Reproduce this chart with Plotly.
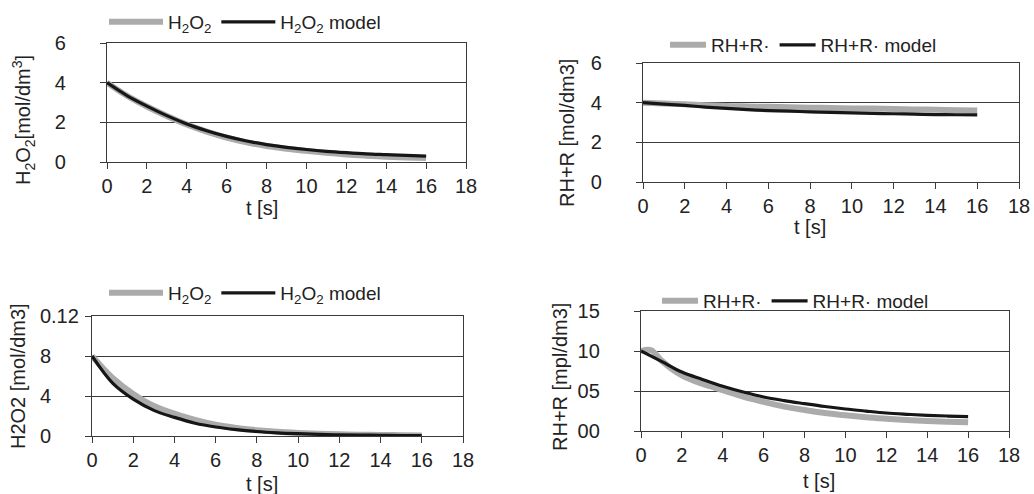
import plotly.graph_objects as go

# time axis [s]
t = [0, 1, 2, 3, 4, 5, 6, 7, 8, 9, 10, 11, 12, 13, 14, 15, 16]
t_rh_low = [0, 0.5, 1, 2, 3, 4, 5, 6, 7, 8, 9, 10, 11, 12, 13, 14, 15, 16]

# H2O2, high initial concentration
h2o2_high = [4.00, 3.34, 2.80, 2.32, 1.89, 1.53, 1.23, 0.99, 0.81, 0.67, 0.56, 0.46, 0.38, 0.32, 0.27, 0.23, 0.20]
h2o2_high_model = [4.00, 3.35, 2.82, 2.34, 1.92, 1.58, 1.29, 1.06, 0.88, 0.74, 0.63, 0.54, 0.47, 0.41, 0.37, 0.33, 0.30]

# RH + R·, high initial H2O2
rh_high = [4.00, 3.96, 3.92, 3.87, 3.83, 3.81, 3.79, 3.77, 3.75, 3.73, 3.71, 3.70, 3.68, 3.66, 3.64, 3.62, 3.61]
rh_high_model = [4.00, 3.93, 3.86, 3.78, 3.71, 3.65, 3.60, 3.57, 3.54, 3.51, 3.49, 3.46, 3.44, 3.42, 3.40, 3.39, 3.38]

# H2O2, low initial concentration
h2o2_low = [0.080, 0.058, 0.042, 0.030, 0.0224, 0.016, 0.0112, 0.0080, 0.0058, 0.0042, 0.0031, 0.0023, 0.0017, 0.0013, 0.0010, 0.0008, 0.0006]
h2o2_low_model = [0.080, 0.0528, 0.0368, 0.0256, 0.0186, 0.0128, 0.0090, 0.0064, 0.0045, 0.0032, 0.0023, 0.0016, 0.0012, 0.0009, 0.0007, 0.0005, 0.0004]

# RH + R·, low initial H2O2
rh_low = [0.100, 0.101, 0.088, 0.0696, 0.0590, 0.0510, 0.0430, 0.0365, 0.0305, 0.0262, 0.0225, 0.0196, 0.0172, 0.0154, 0.0138, 0.0125, 0.0116, 0.0109]
rh_low_model = [0.100, 0.087, 0.0737, 0.0645, 0.0559, 0.0487, 0.0425, 0.0380, 0.0342, 0.0306, 0.0275, 0.0249, 0.0225, 0.0209, 0.0196, 0.0187, 0.0180]

# axis ticks
x_ticks = [0, 2, 4, 6, 8, 10, 12, 14, 16, 18]
y1_ticks = [0, 2, 4, 6]
y2_ticks = [0, 2, 4, 6]
y3_ticks = [0, 0.04, 0.08, 0.12]
y3_labels = ["0\u2007\u2007\u2008", "4\u2007\u2007\u2008", "8\u2007\u2007\u2008", "0.12"]
y4_ticks = [0, 0.05, 0.10, 0.15]
y4_labels = ["00", "05", "10", "15"]

H2O2 = "H<sub>2</sub>O<sub>2</sub>"
RHR = "RH+R\u00b7"

W, H = 1034, 494
FONT = "Liberation Sans, Arial, sans-serif"
GRAY = "#ababab"
BLACK = "#161616"
AXIS = "#3a3a3a"


def px(x):
    return x / W


def py(y):
    return 1 - y / H


fig = go.Figure()

panels = [
    # (suffix, x, exp, model, x_exp, name_exp, name_model)
    ("", t, h2o2_high, h2o2_high_model, t, H2O2, H2O2 + " model"),
    ("2", t, rh_high, rh_high_model, t, RHR, RHR + " model"),
    ("3", t, h2o2_low, h2o2_low_model, t, H2O2, H2O2 + " model"),
    ("4", t, rh_low, rh_low_model, t_rh_low, RHR, RHR + " model"),
]

for suf, tx, exp, model, tx_exp, n_exp, n_mod in panels:
    fig.add_trace(go.Scatter(
        x=tx_exp, y=exp, mode="lines", name=n_exp,
        line=dict(color=GRAY, width=6, shape="spline"),
        xaxis="x" + suf, yaxis="y" + suf, legend="legend" + suf,
    ))
    fig.add_trace(go.Scatter(
        x=tx, y=model, mode="lines", name=n_mod,
        line=dict(color=BLACK, width=3.2, shape="spline"),
        xaxis="x" + suf, yaxis="y" + suf, legend="legend" + suf,
    ))

tick_font = dict(family=FONT, size=20, color="#222")

# plot areas in pixels: (left, right, top, bottom)
boxes = {
    "": (107, 466, 43, 162),
    "2": (643, 1019, 63, 182),
    "3": (92, 463, 316, 436),
    "4": (641, 1009, 311, 431),
}

y_specs = {
    "": dict(range=[0, 6], tickvals=y1_ticks, ticktext=[str(v) for v in y1_ticks], standoff=30),
    "2": dict(range=[0, 6], tickvals=y2_ticks, ticktext=[str(v) for v in y2_ticks], standoff=30),
    "3": dict(range=[0, 0.12], tickvals=y3_ticks, ticktext=y3_labels, standoff=2),
    "4": dict(range=[0, 0.15], tickvals=y4_ticks, ticktext=y4_labels, standoff=30),
}

layout_axes = {}
for suf, (l, r, tp, b) in boxes.items():
    xa = "xaxis" + suf
    ya = "yaxis" + suf
    spec = y_specs[suf]
    layout_axes[xa] = dict(
        domain=[px(l), px(r)], anchor="y" + suf, range=[0, 18],
        tickvals=x_ticks, ticks="outside", ticklen=6, tickcolor=AXIS,
        showline=True, linecolor=AXIS, linewidth=1.3, mirror=True,
        showgrid=False, zeroline=False, tickfont=tick_font,
        automargin=False, fixedrange=True,
    )
    layout_axes[ya] = dict(
        domain=[py(b), py(tp)], anchor="x" + suf, range=spec["range"],
        tickvals=spec["tickvals"], ticktext=spec["ticktext"],
        ticks="outside", ticklen=6, tickcolor=AXIS,
        ticklabelstandoff=spec["standoff"],
        showline=True, linecolor=AXIS, linewidth=1.3, mirror=True,
        showgrid=True, gridcolor=AXIS, gridwidth=1.3, zeroline=False,
        tickfont=tick_font, automargin=False, fixedrange=True,
    )

legend_font = dict(family=FONT, size=19, color="#222")
# (left px, centre px, item width)
legend_pos = {
    "legend": (104, 22, 54),
    "legend2": (665, 45, 36),
    "legend3": (104, 293, 54),
    "legend4": (657, 301, 36),
}
legends = {}
for key, (lx, ly, iw) in legend_pos.items():
    legends[key] = dict(
        orientation="h", x=px(lx), y=py(ly), xanchor="left", yanchor="middle",
        font=legend_font, bgcolor="rgba(0,0,0,0)", itemwidth=iw,
        tracegroupgap=0, borderwidth=0,
    )

title_font = dict(family=FONT, size=20, color="#222")


def title(text, x, y, angle=0):
    return dict(text=text, x=px(x), y=py(y), xref="paper", yref="paper",
                xanchor="center", yanchor="middle", showarrow=False,
                textangle=angle, font=title_font)


annotations = [
    # x-axis titles
    title("t [s]", 262, 208),
    title("t [s]", 810, 227),
    title("t [s]", 262, 484),
    title("t [s]", 819, 481),
    # y-axis titles
    title(H2O2 + "[mol/dm<sup>3</sup>]", 24, 120, -90),
    title("RH+R [mol/dm3]", 567, 133, -90),
    title("H2O2 [mol/dm3]", 18, 376, -90),
    title("RH+R [mpl/dm3]", 560, 377, -90),
]

fig.update_layout(
    width=W, height=H,
    margin=dict(l=0, r=0, t=0, b=0),
    paper_bgcolor="white", plot_bgcolor="white",
    font=dict(family=FONT, color="#222"),
    annotations=annotations,
    **layout_axes,
    **legends,
)

fig.write_html("out.html", config={"displayModeBar": False})
